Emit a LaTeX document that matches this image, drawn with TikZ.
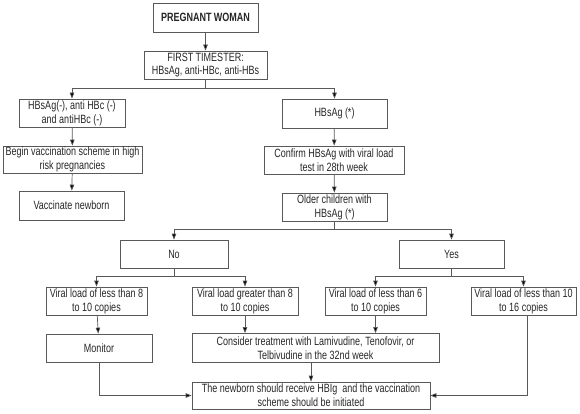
\documentclass[tikz,border=0pt]{standalone}
\usepackage{fontspec}
\setmainfont{Liberation Sans}[FakeStretch=0.75]
\usetikzlibrary{arrows.meta}
\begin{document}
\begin{tikzpicture}[x=1pt,y=-1pt,
  box/.style={draw=black!65, line width=0.7pt, rectangle, inner sep=0pt, align=center,
    font=\fontsize{12}{13.8}\selectfont, text=black!85},
  conn/.style={draw=black!65, line width=0.7pt},
  arr/.style={conn, -{Triangle[length=6pt,width=4.5pt,fill=black]}}]
\useasboundingbox (0,0) rectangle (580,414);
\node[box, minimum width=105, minimum height=29, font=\fontsize{12}{13.8}\selectfont\bfseries] (pw) at (205.5,17.5) {PREGNANT WOMAN};
\node[box, minimum width=123, minimum height=28] (ft) at (205.5,65) {FIRST TIMESTER:\\HBsAg, anti-HBc, anti-HBs};
\node[box, minimum width=106, minimum height=28] (neg) at (72,113) {HBsAg(-), anti HBc (-)\\and antiHBc (-)};
\node[box, minimum width=105, minimum height=29] (pos) at (334.5,113.5) {HBsAg (*)};
\node[box, minimum width=139, minimum height=27] (begin) at (72.5,159.5) {Begin vaccination scheme in high\\risk pregnancies};
\node[box, minimum width=105, minimum height=29] (vacc) at (71.5,205.5) {Vaccinate newborn};
\node[box, minimum width=140, minimum height=28] (conf) at (334,160) {Confirm HBsAg with viral load\\test in 28th week};
\node[box, minimum width=105, minimum height=28] (older) at (334.5,207) {Older children with\\HBsAg (*)};
\node[box, minimum width=108, minimum height=28] (no) at (174,254) {No};
\node[box, minimum width=105, minimum height=28] (yes) at (451.5,254) {Yes};
\node[box, minimum width=101, minimum height=28] (v1) at (96.5,301) {Viral load of less than 8\\to 10 copies};
\node[box, minimum width=106, minimum height=28] (v2) at (245,301) {Viral load greater than 8\\to 10 copies};
\node[box, minimum width=101, minimum height=28] (v3) at (375.5,301) {Viral load of less than 6\\to 10 copies};
\node[box, minimum width=105, minimum height=28] (v4) at (523.5,301) {Viral load of less than 10\\to 16 copies};
\node[box, minimum width=106, minimum height=28] (mon) at (99,348) {Monitor};
\node[box, minimum width=247, minimum height=29] (cons) at (315.5,348) {Consider treatment with Lamivudine, Tenofovir, or\\Telbivudine in the 32nd week};
\node[box, minimum width=238, minimum height=27] (nb) at (311,395.5) {The newborn should receive HBIg\ \ and the vaccination\\scheme should be initiated};
\coordinate (j1) at (205.5,88);
\coordinate (j2) at (334.5,229);
\coordinate (j3) at (174,276);
\coordinate (j4) at (451.5,276);
\draw[arr] (pw) -- (ft);
\draw[conn] (ft.south) -- (j1);
\draw[arr] (j1) -| (neg.north);
\draw[arr] (j1) -| (pos.north);
\draw[arr] (neg) -- (begin);
\draw[arr] (begin) -- (vacc);
\draw[arr] (pos) -- (conf);
\draw[arr] (conf) -- (older);
\draw[conn] (older.south) -- (j2);
\draw[arr] (j2) -| (no.north);
\draw[arr] (j2) -| (yes.north);
\draw[conn] (no.south) -- (j3);
\draw[arr] (j3) -| (v1.north);
\draw[arr] (j3) -| (v2.north);
\draw[conn] (yes.south) -- (j4);
\draw[arr] (j4) -| (v3.north);
\draw[arr] (j4) -| (v4.north);
\draw[arr] (v1) -- (mon);
\draw[arr] (v2.south) -- (v2.south |- cons.north);
\draw[arr] (v3.south) -- (v3.south |- cons.north);
\draw[arr] (nb.north |- cons.south) -- (nb.north);
\draw[arr] (mon.south) |- (nb.west);
\draw[arr] ([xshift=3.5]v4.south) |- (nb.east);
\end{tikzpicture}
\end{document}
